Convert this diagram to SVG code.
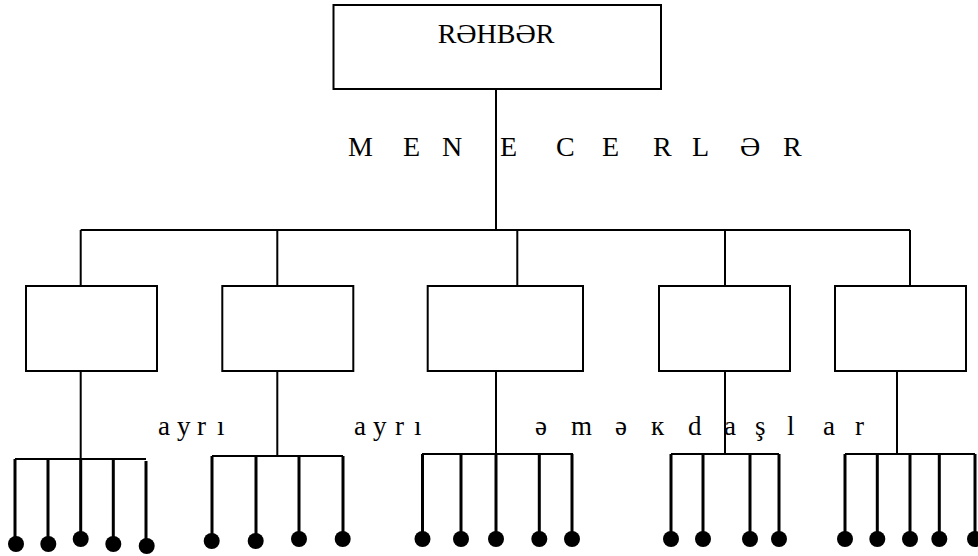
<svg xmlns="http://www.w3.org/2000/svg" width="978" height="556" viewBox="0 0 978 556">
  <style>
    .box { fill: #fff; stroke: #000; stroke-width: 2; }
    .ln { fill: none; stroke: #000; stroke-width: 2; }
    .stem { fill: none; stroke: #000; stroke-width: 3; }
    .dot { fill: #000; }
    .cap { font-family: "Liberation Serif", "Times New Roman", serif; font-size: 28px; fill: #000; }
    .low { font-family: "Liberation Serif", "Times New Roman", serif; font-size: 27px; fill: #000; }
  </style>
  <rect width="978" height="556" fill="#fff"/>

  <!-- connectors -->
  <g id="connectors">
    <path class="ln" d="M496 89V230M80.7 230H910M80.7 230V286M277.3 230V286M517.3 230V286M725 230V286M910 230V286"/>
    <path class="ln" d="M80.7 371V459M277.3 371V456M496 371V454M725 371V454M897 371V454"/>
    <!-- fan bars -->
    <path class="ln" d="M15 459H146M212 456H343M422 454H573M671 454H779M845 454H975"/>
    <!-- stems -->
    <path class="stem" d="M15 459V544M48 459V544M80.7 459V539M113.3 459V544M146 461V546"/>
    <path class="stem" d="M212 456V541M256 456V541M299 455V539M343 456V539"/>
    <path class="stem" d="M422.5 454V539M461 454V539M496 454V539M539.3 454V539M572 454V539"/>
    <path class="stem" d="M671 454V539M703 454V539M750 454V539M779 454V539"/>
    <path class="stem" d="M845 454V539M877.3 454V539M910 454V539M939.3 454V539M975 454V539"/>
  </g>

  <!-- head -->
  <g id="head">
    <rect class="box" x="333.5" y="5" width="327.5" height="84"/>
    <text class="cap" x="496" y="43" text-anchor="middle">RƏHBƏR</text>
  </g>

  <!-- departments -->
  <g id="dept1"><rect class="box" x="26" y="286" width="131" height="85"/></g>
  <g id="dept2"><rect class="box" x="222.3" y="286" width="131" height="85"/></g>
  <g id="dept3"><rect class="box" x="427.7" y="286" width="155.3" height="85"/></g>
  <g id="dept4"><rect class="box" x="659" y="286" width="131" height="85"/></g>
  <g id="dept5"><rect class="box" x="835" y="286" width="131" height="85"/></g>

  <!-- labels -->
  <text class="cap" x="348 403 442 500 556 602 653 692 740 783" y="156">MENECERLƏR</text>
  <text class="low" x="158 177 197 217" y="435">ayrı</text>
  <text class="low" x="354 373 395 414" y="435">ayrı</text>
  <text class="low" x="535 571 615 651 688 724 755 787 823 855" y="435">əməкdaşlar</text>

  <!-- staff -->
  <g id="staff1-1"><circle class="dot" cx="16" cy="544" r="8"/></g>
  <g id="staff1-2"><circle class="dot" cx="48.3" cy="544" r="8"/></g>
  <g id="staff1-3"><circle class="dot" cx="80.7" cy="539" r="8"/></g>
  <g id="staff1-4"><circle class="dot" cx="113.3" cy="544" r="8"/></g>
  <g id="staff1-5"><circle class="dot" cx="146.7" cy="546" r="8"/></g>

  <g id="staff2-1"><circle class="dot" cx="211.7" cy="541" r="8"/></g>
  <g id="staff2-2"><circle class="dot" cx="255.7" cy="541" r="8"/></g>
  <g id="staff2-3"><circle class="dot" cx="299" cy="539" r="8"/></g>
  <g id="staff2-4"><circle class="dot" cx="342.7" cy="539" r="8"/></g>

  <g id="staff3-1"><circle class="dot" cx="422.5" cy="539" r="8"/></g>
  <g id="staff3-2"><circle class="dot" cx="461" cy="539" r="8"/></g>
  <g id="staff3-3"><circle class="dot" cx="496" cy="539" r="8"/></g>
  <g id="staff3-4"><circle class="dot" cx="539.3" cy="539" r="8"/></g>
  <g id="staff3-5"><circle class="dot" cx="572" cy="539" r="8"/></g>

  <g id="staff4-1"><circle class="dot" cx="671" cy="539" r="8"/></g>
  <g id="staff4-2"><circle class="dot" cx="703" cy="539" r="8"/></g>
  <g id="staff4-3"><circle class="dot" cx="750" cy="539" r="8"/></g>
  <g id="staff4-4"><circle class="dot" cx="779" cy="539" r="8"/></g>

  <g id="staff5-1"><circle class="dot" cx="845" cy="539" r="8"/></g>
  <g id="staff5-2"><circle class="dot" cx="877.3" cy="539" r="8"/></g>
  <g id="staff5-3"><circle class="dot" cx="910" cy="539" r="8"/></g>
  <g id="staff5-4"><circle class="dot" cx="939.3" cy="539" r="8"/></g>
  <g id="staff5-5"><circle class="dot" cx="975" cy="539" r="8"/></g>
</svg>
